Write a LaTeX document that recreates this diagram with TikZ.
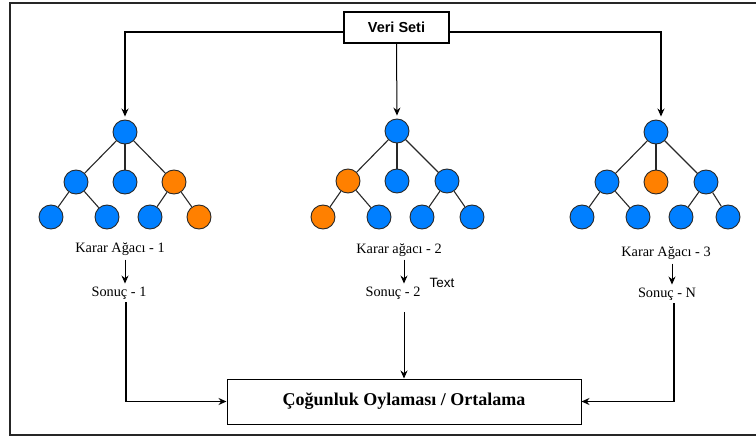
\documentclass[tikz,border=0pt]{standalone}
\usepackage{fontspec}
\setmainfont{Liberation Serif}
\newfontfamily\sansf{Liberation Sans}
\usetikzlibrary{arrows.meta}
\definecolor{treeblue}{RGB}{0,127,255}
\definecolor{treeorange}{RGB}{255,128,0}
\definecolor{linegray}{RGB}{40,40,40}
\begin{document}
\begin{tikzpicture}[x=1pt,y=-1pt,
  bn/.style={circle,minimum size=24pt,inner sep=0pt,draw=linegray,line width=0.9pt,fill=treeblue},
  on/.style={bn,fill=treeorange},
  edge/.style={draw=linegray,line width=1.1pt},
  medge/.style={draw=linegray,line width=1.7pt},
  arr/.style={draw=black,line width=1pt,-{Stealth[length=8pt,width=7pt]}},
  tarr/.style={arr,line width=1.6pt},
  lbl/.style={inner sep=1pt,font=\fontsize{14.3}{16}\selectfont},
  frame/.style={draw=black!85,line width=1.3pt}]
\useasboundingbox (0,0) rectangle (756,436);
\draw[frame] (757,3) -- (10,3) -- (10,435) -- (757,435);

% boxes
\node[draw=black,line width=1.2pt,minimum width=105pt,minimum height=31pt,inner sep=0pt,
  font=\sansf\bfseries\fontsize{14.5}{16}\selectfont] (veri) at (396.5,27.5) {Veri Seti};
\node[draw=black,line width=1pt,minimum width=354pt,minimum height=45pt,inner sep=0pt,
  font=\bfseries\fontsize{18}{20}\selectfont] (res) at (404,401.5) {Çoğunluk Oylaması / Ortalama};

% tree 1
\node[bn] (ar) at (125,132) {};
\node[bn] (a1) at (76,182) {};
\node[bn] (a2) at (125,182) {};
\node[on] (a3) at (174,182) {};
\node[bn] (a4) at (51,217) {};
\node[bn] (a5) at (107,217) {};
\node[bn] (a6) at (150,217) {};
\node[on] (a7) at (199,217) {};
\draw[edge] (ar) -- (a1); \draw[medge] (ar) -- (a2); \draw[edge] (ar) -- (a3);
\draw[edge] (a1) -- (a4); \draw[edge] (a1) -- (a5);
\draw[edge] (a3) -- (a6); \draw[edge] (a3) -- (a7);

% tree 2
\node[bn] (br) at (397,131) {};
\node[on] (b1) at (348,181) {};
\node[bn] (b2) at (397,181) {};
\node[bn] (b3) at (447,181) {};
\node[on] (b4) at (323,217) {};
\node[bn] (b5) at (379,217) {};
\node[bn] (b6) at (422,217) {};
\node[bn] (b7) at (472,217) {};
\draw[edge] (br) -- (b1); \draw[medge] (br) -- (b2); \draw[edge] (br) -- (b3);
\draw[edge] (b1) -- (b4); \draw[edge] (b1) -- (b5);
\draw[edge] (b3) -- (b6); \draw[edge] (b3) -- (b7);

% tree 3
\node[bn] (cr) at (656,132) {};
\node[bn] (c1) at (607,182) {};
\node[on] (c2) at (656,182) {};
\node[bn] (c3) at (706,182) {};
\node[bn] (c4) at (582,217) {};
\node[bn] (c5) at (638,217) {};
\node[bn] (c6) at (681,217) {};
\node[bn] (c7) at (728,217) {};
\draw[edge] (cr) -- (c1); \draw[medge] (cr) -- (c2); \draw[edge] (cr) -- (c3);
\draw[edge] (c1) -- (c4); \draw[edge] (c1) -- (c5);
\draw[edge] (c3) -- (c6); \draw[edge] (c3) -- (c7);

% labels
\node[lbl] (k1) at (120,249) {Karar Ağacı - 1};
\node[lbl] (k2) at (399,250) {Karar ağacı - 2};
\node[lbl] (k3) at (666,253) {Karar Ağacı - 3};
\node[lbl] (s1) at (119,293) {Sonuç - 1};
\node[lbl] (s2) at (393,293) {Sonuç - 2};
\node[lbl] (s3) at (667,294) {Sonuç - N};
\node[inner sep=0pt,font=\sansf\fontsize{13.5}{15}\selectfont] (tx) at (442,283) {Text};

% top connectors
\draw[tarr,shorten >=3pt] ([yshift=-4.5pt]veri.west) -| (ar.north);
\draw[arr,shorten >=3pt] (veri.south) -- (br.north);
\draw[tarr,shorten >=3pt] ([yshift=-4.5pt]veri.east) -| ([xshift=5pt]cr.north);

% label to result arrows
\draw[arr] ([xshift=5pt,yshift=-3pt]k1.south) -- ([xshift=6pt,yshift=2pt]s1.north);
\draw[arr] ([xshift=5pt,yshift=-2pt]k2.south) -- ([xshift=11pt,yshift=2pt]s2.north);
\draw[arr] ([xshift=6pt,yshift=-3pt]k3.south) -- ([xshift=5pt,yshift=2pt]s3.north);

% to result box
\draw[arr,line width=1.4pt] ([xshift=7pt,yshift=-2pt]s1.south) |- (res.west);
\draw[arr] ([yshift=-12pt]s2.south -| res.north) -- (res.north);
\draw[arr,line width=1.4pt] ([xshift=7pt,yshift=-2pt]s3.south) |- (res.east);
\end{tikzpicture}
\end{document}
